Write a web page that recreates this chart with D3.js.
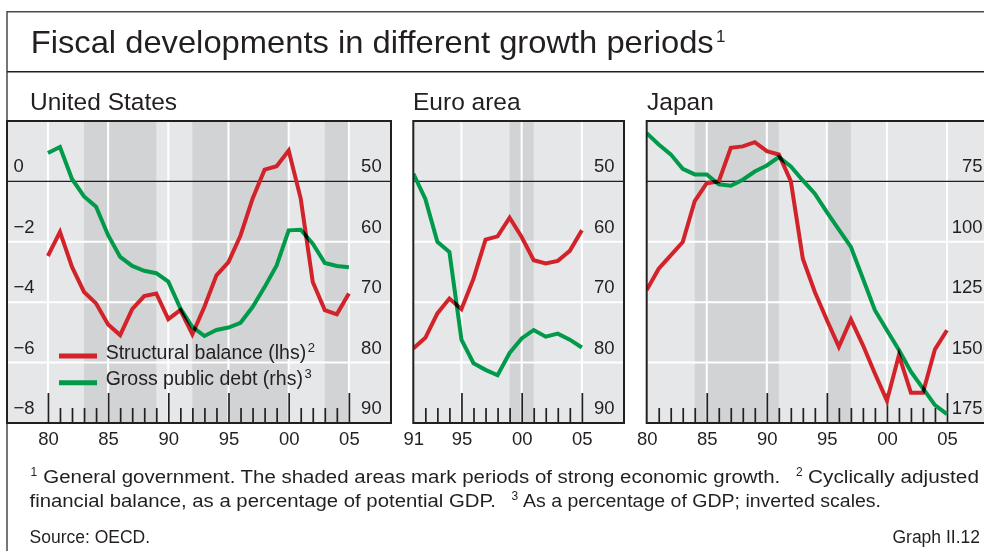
<!DOCTYPE html>
<html>
<head>
<meta charset="utf-8">
<script src="https://cdn.jsdelivr.net/npm/d3@7"></script>
<style>
body{margin:0;background:#fff;}
svg{display:block;font-family:"Liberation Sans",Arial,Helvetica,sans-serif;}
text{fill:#231f20;}
</style>
</head>
<body>
<script>
// ---- data ----
const usYears = [1980,1981,1982,1983,1984,1985,1986,1987,1988,1989,1990,1991,1992,1993,1994,1995,1996,1997,1998,1999,2000,2001,2002,2003,2004,2005];
const usBalance = [-2.47,-1.67,-2.83,-3.66,-4.04,-4.74,-5.09,-4.23,-3.80,-3.71,-4.56,-4.26,-5.06,-4.15,-3.11,-2.67,-1.79,-0.57,0.39,0.50,1.02,-0.57,-3.33,-4.26,-4.40,-3.71];
const usDebt = [45.3,44.3,49.6,52.5,54.2,58.9,62.5,64.0,64.8,65.2,66.6,71.0,74.1,75.6,74.6,74.2,73.4,70.8,67.5,63.9,58.1,58.0,60.3,63.5,64.0,64.2];
const usShade = [[1983,1989],[1992,2000],[2003,2005]];

const euroYears = [1991,1992,1993,1994,1995,1996,1997,1998,1999,2000,2001,2002,2003,2004,2005];
const euroBalance = [-5.53,-5.18,-4.37,-3.88,-4.23,-3.22,-1.93,-1.82,-1.20,-1.84,-2.61,-2.72,-2.63,-2.30,-1.62];
const euroDebt = [48.7,52.9,60.0,61.7,76.2,80.1,81.2,82.1,78.4,76.0,74.6,75.7,75.2,76.2,77.5];
const euroShade = [[1999,2001]];

const jpYears = usYears;
const jpBalance = [-3.60,-2.89,-2.45,-2.01,-0.65,-0.06,0.00,1.11,1.16,1.30,1.00,0.89,0.01,-2.56,-3.66,-4.59,-5.48,-4.57,-5.42,-6.36,-7.26,-5.75,-7.00,-7.00,-5.56,-4.93];
const jpDebt = [55.0,59.7,63.8,69.8,72.1,72.1,76.2,76.8,74.3,70.9,68.4,64.9,68.8,74.6,80.1,87.7,95.0,102.1,115.2,128.3,136.6,144.8,153.8,160.7,167.6,171.3];
const jpShade = [[1984,1991],[1995,1997]];

const lhsTicks = [0,-2,-4,-6,-8];
const debtTicks = [50,60,70,80,90];
const jpDebtTicks = [75,100,125,150,175];
const usLabels = [1980,1985,1990,1995,2000,2005];
const euroLabels = [1991,1995,2000,2005];
const jpLabels = [1980,1985,1990,1995,2000,2005];

const W = 984, H = 551;
const plotTop = 121, plotBottom = 423;
const red = "#d2232a", green = "#009a4a", ink = "#231f20";

const svg = d3.select("body").append("svg").attr("width", W).attr("height", H);

// outer frame + title
svg.append("path").attr("d","M7,"+H+"V11.7H"+W).attr("fill","none").attr("stroke","#4a4a4a").attr("stroke-width",1.5);
svg.append("line").attr("x1",7).attr("x2",W).attr("y1",71.7).attr("y2",71.7).attr("stroke",ink).attr("stroke-width",1.6);
svg.append("text").attr("x",30.7).attr("y",53.3).attr("font-size",30.5)
   .attr("textLength",683).attr("lengthAdjust","spacingAndGlyphs")
   .text("Fiscal developments in different growth periods");
svg.append("text").attr("x",716).attr("y",42).attr("font-size",17).text("1");

const yL = d3.scaleLinear().domain([-8,2]).range([plotBottom,plotTop]);

const panels = [
  {title:"United States", tx:30, x0:7, x1:391, dom:[1976.6,2008.5], years:usYears, bal:usBalance, debt:usDebt,
   shade:usShade, rdom:[90,40], rticks:debtTicks, labels:usLabels, lhs:true, rx:381.7},
  {title:"Euro area", tx:413, x0:413.3, x1:624, dom:[1991,2008.5], years:euroYears, bal:euroBalance, debt:euroDebt,
   shade:euroShade, rdom:[90,40], rticks:debtTicks, labels:euroLabels, lhs:false, rx:614.5},
  {title:"Japan", tx:647, x0:646.7, x1:989, dom:[1980,2008.5], years:jpYears, bal:jpBalance, debt:jpDebt,
   shade:jpShade, rdom:[175,50], rticks:jpDebtTicks, labels:jpLabels, lhs:false, rx:982.5}
];

panels.forEach((p,i) => {
  const x = d3.scaleLinear().domain(p.dom).range([p.x0,p.x1]);
  const yR = d3.scaleLinear().domain(p.rdom).range([plotBottom,plotTop]);
  const g = svg.append("g");

  svg.append("text").attr("x",p.tx).attr("y",110).attr("font-size",24.5).text(p.title);

  const clipId = "clip"+i;
  svg.append("clipPath").attr("id",clipId).append("rect")
     .attr("x",p.x0).attr("y",plotTop).attr("width",p.x1-p.x0).attr("height",plotBottom-plotTop);
  const inner = g.append("g").attr("clip-path","url(#"+clipId+")");

  inner.append("rect").attr("x",p.x0).attr("y",plotTop).attr("width",p.x1-p.x0).attr("height",plotBottom-plotTop).attr("fill","#e6e7e8");
  inner.selectAll(".shade").data(p.shade).enter().append("rect")
     .attr("x",d=>x(d[0])).attr("width",d=>x(d[1])-x(d[0]))
     .attr("y",plotTop).attr("height",plotBottom-plotTop).attr("fill","#d2d3d5");

  // white grid
  inner.selectAll(".hg").data(lhsTicks.filter(v=>v<0 && v>-8)).enter().append("line")
     .attr("x1",p.x0).attr("x2",p.x1).attr("y1",d=>yL(d)).attr("y2",d=>yL(d))
     .attr("stroke","#fff").attr("stroke-width",2);
  const majors = p.years.filter(y => y%5===0);
  inner.selectAll(".vg").data(majors).enter().append("line")
     .attr("x1",d=>x(d)).attr("x2",d=>x(d)).attr("y1",plotTop).attr("y2",plotBottom)
     .attr("stroke","#fff").attr("stroke-width",2);
  inner.append("line").attr("x1",p.x0).attr("x2",p.x1).attr("y1",yL(0)).attr("y2",yL(0))
     .attr("stroke",ink).attr("stroke-width",1.1);

  // ticks pointing up from the bottom
  const minorAxis = d3.axisTop(x).tickValues(p.years.filter(y=>y%5!==0 && y>p.dom[0])).tickSize(15).tickFormat("");
  const majorAxis = d3.axisTop(x).tickValues(majors.filter(y=>y>p.dom[0])).tickSize(30).tickFormat("");
  [minorAxis, majorAxis].forEach(ax => {
    const a = inner.append("g").attr("transform","translate(0,"+plotBottom+")").call(ax);
    a.select(".domain").remove();
    a.selectAll("line").attr("stroke",ink).attr("stroke-width",1.7);
  });

  // series
  const lines = inner.append("g").style("isolation","isolate");
  const rows = p.years.map((y,k) => ({year:y, bal:p.bal[k], debt:p.debt[k]}));
  lines.append("path").datum(rows)
     .attr("d", d3.line().x(d=>x(d.year)).y(d=>yR(d.debt)))
     .attr("fill","none").attr("stroke",green).attr("stroke-width",4).attr("stroke-linejoin","miter")
     .style("mix-blend-mode","multiply");
  lines.append("path").datum(rows)
     .attr("d", d3.line().x(d=>x(d.year)).y(d=>yL(d.bal)))
     .attr("fill","none").attr("stroke",red).attr("stroke-width",4).attr("stroke-linejoin","miter")
     .style("mix-blend-mode","multiply");

  // frame
  g.append("rect").attr("x",p.x0).attr("y",plotTop).attr("width",p.x1-p.x0).attr("height",plotBottom-plotTop)
     .attr("fill","none").attr("stroke",ink).attr("stroke-width",2);

  // right-hand labels
  g.selectAll(".rl").data(p.rticks).enter().append("text")
     .attr("x",p.rx).attr("y",d=>yR(d)-9).attr("text-anchor","end").attr("font-size",18.5).text(d=>d);
  if (p.lhs) {
    g.selectAll(".ll").data(lhsTicks).enter().append("text")
       .attr("x",13.5).attr("y",d=>yL(d)-9).attr("font-size",18.5)
       .text(d => d<0 ? "\u2212"+Math.abs(d) : d);
  }

  // year labels
  const xa = g.append("g").attr("transform","translate(0,"+plotBottom+")")
     .call(d3.axisBottom(x).tickValues(p.labels).tickSize(0).tickPadding(8.5).tickFormat(d=>String(d).slice(2)));
  xa.select(".domain").remove();
  xa.attr("font-family",null).attr("font-size",null);
  xa.selectAll("text").attr("font-size",18.5).style("fill",ink);
});

// legend (US panel)
const legend = svg.append("g");
const legendItems = [
  {label:"Structural balance (lhs)", sup:"2", color:red, y:356},
  {label:"Gross public debt (rhs)", sup:"3", color:green, y:382.7}
];
legendItems.forEach(d => {
  legend.append("line").attr("x1",59).attr("x2",97).attr("y1",d.y).attr("y2",d.y)
     .attr("stroke",d.color).attr("stroke-width",5);
  const t = legend.append("text").attr("x",105.7).attr("y",d.y+2.5).attr("font-size",19.5);
  t.append("tspan").text(d.label);
  t.append("tspan").attr("dx",1.5).attr("dy",-7).attr("font-size",13).text(d.sup);
});

// footnotes
const notes = svg.append("g").attr("font-size",17.5);
notes.append("text").attr("x",30.5).attr("y",475.5).attr("font-size",12).text("1");
notes.append("text").attr("x",43.3).attr("y",482.5).attr("textLength",737).attr("lengthAdjust","spacingAndGlyphs")
     .text("General government. The shaded areas mark periods of strong economic growth.");
notes.append("text").attr("x",796).attr("y",475.5).attr("font-size",12).text("2");
notes.append("text").attr("x",808).attr("y",482.5).attr("textLength",171).attr("lengthAdjust","spacingAndGlyphs")
     .text("Cyclically adjusted");
notes.append("text").attr("x",29.5).attr("y",507).attr("textLength",466.5).attr("lengthAdjust","spacingAndGlyphs")
     .text("financial balance, as a percentage of potential GDP.");
notes.append("text").attr("x",511.5).attr("y",500).attr("font-size",12).text("3");
notes.append("text").attr("x",523).attr("y",507).attr("textLength",358).attr("lengthAdjust","spacingAndGlyphs")
     .text("As a percentage of GDP; inverted scales.");
notes.append("text").attr("x",29.5).attr("y",543).text("Source: OECD.");
notes.append("text").attr("x",980).attr("y",543).attr("text-anchor","end").text("Graph II.12");
</script>
</body>
</html>
